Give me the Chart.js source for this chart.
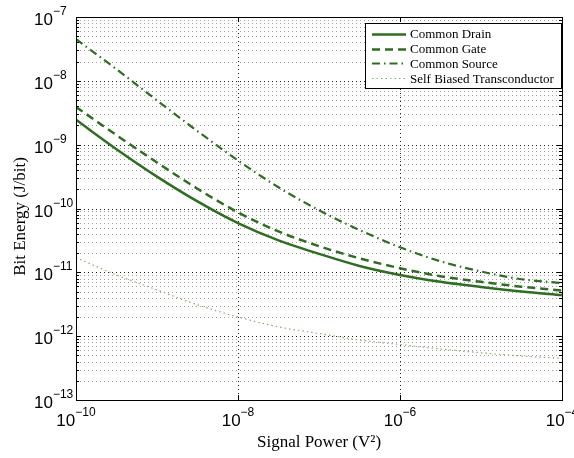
<!DOCTYPE html>
<html>
<head>
<meta charset="utf-8">
<script src="https://cdn.jsdelivr.net/npm/chart.js@4"></script>
<style>
  html, body { margin: 0; padding: 0; background: #fff; }
</style>
</head>
<body>
<canvas id="chart" width="574" height="458"></canvas>
<script>
// signal power (V^2), half-decade steps
const signalPower = [1e-10, 3.16e-10, 1e-9, 3.16e-9, 1e-8, 3.16e-8, 1e-7, 3.16e-7, 1e-6, 3.16e-6, 1e-5, 3.16e-5, 1e-4];

// bit energy (J/bit)
const commonDrain = [2.45e-9, 8.5e-10, 3.16e-10, 1.29e-10, 5.9e-11, 3.16e-11, 1.95e-11, 1.26e-11, 9.1e-12, 7.1e-12, 5.9e-12, 5.0e-12, 4.4e-12];
const commonGate = [3.9e-9, 1.41e-9, 5.25e-10, 2.04e-10, 8.7e-11, 4.37e-11, 2.57e-11, 1.66e-11, 1.16e-11, 8.7e-12, 7.1e-12, 5.96e-12, 5.2e-12];
const commonSource = [4.5e-8, 1.52e-8, 4.93e-9, 1.63e-9, 5.66e-10, 2.15e-10, 9.4e-11, 4.6e-11, 2.47e-11, 1.49e-11, 1.03e-11, 7.8e-12, 6.8e-12];
const selfBiased = [1.7e-11, 9.1e-12, 5.3e-12, 3.1e-12, 2.0e-12, 1.4e-12, 1.1e-12, 8.7e-13, 7.4e-13, 6.3e-13, 5.5e-13, 4.9e-13, 4.5e-13];

const seriesNames = ['Common Drain', 'Common Gate', 'Common Source', 'Self Biased Transconductor'];

// tick exponents
const xTickExp = [-10, -8, -6, -4];
const yTickExp = [-13, -12, -11, -10, -9, -8, -7];

const GREEN = '#2f6e22';
const LIGHT_GREEN = '#7fb070';

function toPoints(values) {
    return values.map((v, i) => ({ x: signalPower[i], y: v }));
}

const datasets = [
    { label: seriesNames[0], data: toPoints(commonDrain), borderColor: GREEN, borderWidth: 2.5, borderDash: [] },
    { label: seriesNames[1], data: toPoints(commonGate), borderColor: GREEN, borderWidth: 2.5, borderDash: [8, 5] },
    { label: seriesNames[2], data: toPoints(commonSource), borderColor: GREEN, borderWidth: 2.2, borderDash: [8, 4, 1.5, 4] },
    { label: seriesNames[3], data: toPoints(selfBiased), borderColor: LIGHT_GREEN, borderWidth: 1.2, borderDash: [1.5, 3] }
].map(d => Object.assign(d, { pointRadius: 0, fill: false, cubicInterpolationMode: 'monotone' }));

function drawPow(ctx, exp, x, baseY, align) {
    const base = '10';
    const sup = '\u2212' + Math.abs(exp);
    ctx.font = '17px "Liberation Sans", Arial, sans-serif';
    const wb = ctx.measureText(base).width;
    ctx.font = '12px "Liberation Sans", Arial, sans-serif';
    const ws = ctx.measureText(sup).width;
    let start = x;
    if (align === 'center') start = x - (wb + ws) / 2;
    ctx.textAlign = 'left';
    ctx.textBaseline = 'alphabetic';
    ctx.fillStyle = '#000';
    ctx.font = '17px "Liberation Sans", Arial, sans-serif';
    ctx.fillText(base, start, baseY);
    ctx.font = '12px "Liberation Sans", Arial, sans-serif';
    ctx.fillText(sup, start + wb, baseY - 10);
}

function hline(ctx, x1, x2, y) {
    ctx.beginPath();
    ctx.moveTo(x1, y);
    ctx.lineTo(x2, y);
    ctx.stroke();
}

function vline(ctx, x, y1, y2) {
    ctx.beginPath();
    ctx.moveTo(x, y1);
    ctx.lineTo(x, y2);
    ctx.stroke();
}

const framePlugin = {
    id: 'frame',
    beforeDatasetsDraw(chart) {
        const { ctx, chartArea: a, scales: { x, y } } = chart;
        ctx.save();
        ctx.lineWidth = 1;
        ctx.setLineDash([1, 3]);
        // horizontal grid: decades dark, 2..9 lighter
        for (let e = -13; e < -7; e++) {
            for (let m = 1; m <= 9; m++) {
                if (e === -13 && m === 1) continue;
                const py = Math.round(y.getPixelForValue(m * Math.pow(10, e))) + 0.5;
                ctx.strokeStyle = m === 1 ? '#222' : '#a0a0a0';
                hline(ctx, a.left, a.right, py);
            }
        }
        // vertical grid only at the labelled decades
        ctx.strokeStyle = '#222';
        xTickExp.forEach(e => {
            const px = Math.round(x.getPixelForValue(Math.pow(10, e))) + 0.5;
            if (px <= a.left + 1 || px >= a.right - 1) return;
            vline(ctx, px, a.top, a.bottom);
        });
        ctx.restore();
    },
    afterDraw(chart) {
        const { ctx, chartArea: a, scales: { x, y } } = chart;
        ctx.save();
        ctx.setLineDash([]);
        ctx.strokeStyle = '#000';
        ctx.lineWidth = 1;

        // box
        ctx.strokeRect(Math.round(a.left) + 0.5, Math.round(a.top) + 0.5,
            Math.round(a.right - a.left), Math.round(a.bottom - a.top));

        // inward ticks
        for (let e = -13; e < -7; e++) {
            for (let m = 1; m <= 9; m++) {
                const py = Math.round(y.getPixelForValue(m * Math.pow(10, e))) + 0.5;
                const len = m === 1 ? 5 : 3;
                hline(ctx, a.left, a.left + len, py);
                hline(ctx, a.right - len, a.right, py);
            }
        }
        xTickExp.forEach(e => {
            const px = Math.round(x.getPixelForValue(Math.pow(10, e))) + 0.5;
            vline(ctx, px, a.bottom - 5, a.bottom);
            vline(ctx, px, a.top, a.top + 5);
        });

        // tick labels
        yTickExp.forEach(e => {
            const py = y.getPixelForValue(Math.pow(10, e));
            drawPow(ctx, e, 34, py + 8, 'left');
        });
        xTickExp.forEach(e => {
            const px = x.getPixelForValue(Math.pow(10, e));
            drawPow(ctx, e, px, a.bottom + 26, 'center');
        });

        // axis titles
        ctx.fillStyle = '#000';
        ctx.font = '17px "Liberation Serif", "Times New Roman", serif';
        ctx.textAlign = 'center';
        ctx.textBaseline = 'alphabetic';
        ctx.fillText('Signal Power (V\u00b2)', (a.left + a.right) / 2, 447);
        ctx.save();
        ctx.translate(25, (a.top + a.bottom) / 2 + 8);
        ctx.rotate(-Math.PI / 2);
        ctx.fillText('Bit Energy (J/bit)', 0, 0);
        ctx.restore();

        // legend
        const lx = 365.5, ly = 23.5, lw = 196, lh = 65;
        ctx.fillStyle = '#fff';
        ctx.fillRect(lx, ly, lw, lh);
        ctx.strokeStyle = '#000';
        ctx.lineWidth = 1;
        ctx.strokeRect(lx, ly, lw, lh);
        ctx.font = '13px "Liberation Serif", "Times New Roman", serif';
        ctx.textAlign = 'left';
        ctx.textBaseline = 'middle';
        chart.data.datasets.forEach((ds, i) => {
            const rowY = 34 + i * 14.7;
            ctx.strokeStyle = ds.borderColor;
            ctx.lineWidth = ds.borderWidth;
            ctx.setLineDash(ds.borderDash);
            hline(ctx, 372, 406, Math.round(rowY) + 0.5);
            ctx.setLineDash([]);
            ctx.fillStyle = '#000';
            ctx.fillText(ds.label, 410, rowY + 1);
        });
        ctx.restore();
    }
};

new Chart(document.getElementById('chart').getContext('2d'), {
    type: 'line',
    data: { datasets: datasets },
    options: {
        responsive: false,
        animation: false,
        devicePixelRatio: 1,
        layout: { padding: { left: 76, right: 12, top: 17, bottom: 58 } },
        plugins: {
            legend: { display: false },
            tooltip: { enabled: false }
        },
        scales: {
            x: {
                type: 'logarithmic',
                min: 1e-10,
                max: 1e-4,
                ticks: { display: false },
                grid: { display: false, drawTicks: false },
                border: { display: false }
            },
            y: {
                type: 'logarithmic',
                min: 1e-13,
                max: 1e-7,
                ticks: { display: false },
                grid: { display: false, drawTicks: false },
                border: { display: false }
            }
        }
    },
    plugins: [framePlugin]
});
</script>
</body>
</html>
